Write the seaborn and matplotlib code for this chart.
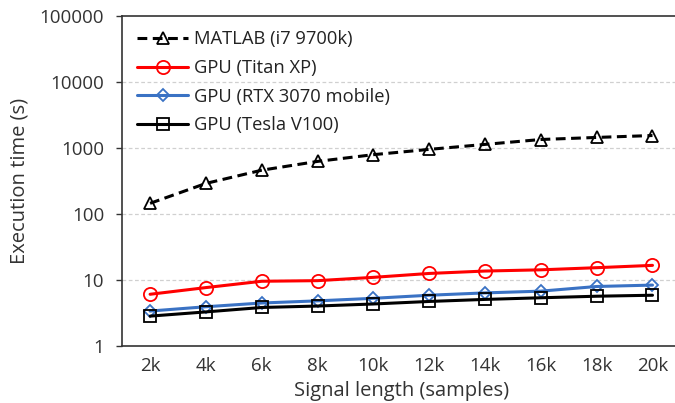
import matplotlib
matplotlib.use("Agg")
import matplotlib.pyplot as plt
import seaborn as sns
import pandas as pd
import numpy as np

categories = ["2k", "4k", "6k", "8k", "10k", "12k", "14k", "16k", "18k", "20k"]
matlab = [145, 290, 460, 625, 790, 950, 1130, 1340, 1440, 1540]
titan = [6.1, 7.7, 9.6, 9.8, 11.0, 12.6, 13.7, 14.3, 15.4, 16.7]
rtx = [3.4, 3.95, 4.5, 4.85, 5.3, 5.9, 6.4, 6.8, 8.0, 8.4]
tesla = [2.85, 3.3, 3.85, 4.05, 4.35, 4.75, 5.1, 5.4, 5.7, 5.9]
series_names = ["MATLAB (i7 9700k)", "GPU (Titan XP)", "GPU (RTX 3070 mobile)", "GPU (Tesla V100)"]
yticks = [1, 10, 100, 1000, 10000, 100000]

sns.set_theme(style="white")
plt.rcParams['font.family'] = ['Open Sans', 'DejaVu Sans']

rows = []
for name, vals in zip(series_names, [matlab, titan, rtx, tesla]):
    for i, (c, v) in enumerate(zip(categories, vals)):
        rows.append({"idx": i, "cat": c, "series": name, "time": v})
df = pd.DataFrame(rows)

fig = plt.figure(figsize=(6.75, 4.03), dpi=100)
ax = fig.add_axes([0.181, 0.141, 0.827, 0.82])

styles = {
    series_names[0]: dict(color="black", ls=(0, (3.2, 1.8)), marker="^", lw=2.2),
    series_names[1]: dict(color="#ff0000", ls="-", marker="o", lw=2.2),
    series_names[2]: dict(color="#3a72c4", ls="-", marker="D", lw=2.2),
    series_names[3]: dict(color="black", ls="-", marker="s", lw=2.2),
}
msizes = {series_names[0]: 9, series_names[1]: 9.5, series_names[2]: 6.5, series_names[3]: 9}

for name in series_names:
    sub = df[df.series == name]
    st = styles[name]
    sns.lineplot(data=sub, x="idx", y="time", ax=ax, color=st["color"],
                 linestyle=st["ls"], lw=st["lw"], marker=st["marker"],
                 markersize=msizes[name], markerfacecolor="none",
                 markeredgecolor=st["color"], markeredgewidth=1.3,
                 label=name, zorder=3)

ax.set_yscale("log")
ax.set_ylim(1, 100000)
ax.set_yticks(yticks)
ax.set_yticklabels([str(v) for v in yticks])
ax.minorticks_off()
ax.set_xlim(-0.5, 9.5)
ax.set_xticks(range(len(categories)))
ax.set_xticklabels(categories)
ax.set_xticks(np.arange(0.5, 9.5, 1), minor=True)
ax.tick_params(axis="x", which="major", length=0, labelsize=13.5, pad=8, colors="#333333")
ax.tick_params(axis="x", which="minor", length=4, direction="in", color="#333333", width=1)
ax.tick_params(axis="y", which="major", length=4, direction="out", labelsize=13.5, pad=9,
               colors="#333333", left=True, width=1)
ax.tick_params(axis="y", which="minor", length=0)

for y in yticks[1:-1]:
    ax.axhline(y, color="#d0d0d0", lw=0.9, ls=(0, (3, 2)), zorder=1)

for s in ax.spines.values():
    s.set_color("#333333")
    s.set_linewidth(1.2)

ax.set_xlabel("Signal length (samples)", fontsize=14.5, color="#333333", labelpad=4)
ax.set_ylabel("Execution time (s)", fontsize=14.5, color="#333333", labelpad=7)

leg = ax.legend(loc="upper left", frameon=False, fontsize=13.2, handlelength=2.8,
                borderaxespad=0.4, labelspacing=0.58, handletextpad=0.3,
                bbox_to_anchor=(0.0, 1.0))
for t in leg.get_texts():
    t.set_color("#222222")

fig.savefig("out.png", dpi=100)
